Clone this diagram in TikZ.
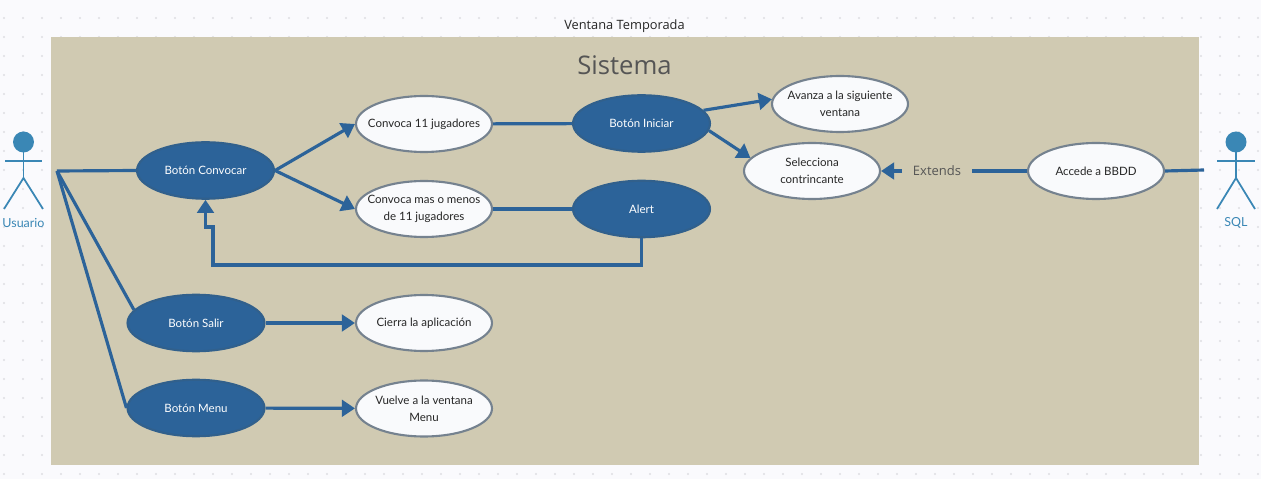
\documentclass[tikz,border=0pt]{standalone}
\usepackage{fontspec}
\setmainfont{Lato}
\newfontfamily\titlefont{Open Sans}
\usetikzlibrary{arrows.meta,shapes.geometric}
\definecolor{pagebg}{HTML}{FAFAFD}
\definecolor{griddot}{HTML}{DEDEE3}
\definecolor{panelbg}{HTML}{D0CAB2}
\definecolor{botonblue}{HTML}{2C6399}
\definecolor{botonedge}{HTML}{31608C}
\definecolor{ovaledge}{HTML}{75828F}
\definecolor{ovalfill}{HTML}{F9FAFC}
\definecolor{actorblue}{HTML}{3A87B5}
\definecolor{inkgrey}{HTML}{555555}
\tikzset{
  boton/.style={ellipse, draw=botonedge, fill=botonblue, line width=1.2pt, minimum width=2.74cm, minimum height=1.13cm, inner xsep=-0.4cm, inner ysep=0pt, text=white, align=center, font=\fontsize{6.55}{9.5}\selectfont},
  caso/.style={ellipse, draw=ovaledge, fill=ovalfill, line width=1.2pt, minimum width=2.72cm, minimum height=1.12cm, inner xsep=-0.4cm, inner ysep=0pt, text=black!85, align=center, font=\fontsize{6.55}{9.5}\selectfont},
  enlace/.style={draw=botonblue, line width=1.8pt},
  flecha/.style={enlace, -{Triangle[length=7.5pt,width=9.5pt]}},
  actorline/.style={draw=actorblue, line width=1pt},
  actorname/.style={text=actorblue, font=\fontsize{7.1}{9}\selectfont}
}
\begin{document}
\begin{tikzpicture}[x=0.02cm, y=-0.02cm, line cap=butt, line join=miter]
    \useasboundingbox (0,0) rectangle (1261,479);
    % Page background with dotted grid
    \fill[pagebg] (0,0) rectangle (1261,479);
    \foreach \gx in {0,...,66}
        \foreach \gy in {0,...,24}
            \fill[griddot] ({4+19*\gx},{18+19*\gy}) circle (1.2);

    % Panel
    \fill[panelbg] (51,37) rectangle (1199,465);
    \node[font=\titlefont\fontsize{7.3}{9}\selectfont, text=black!85] (titulo) at (624.5,26) {Ventana Temporada};
    \node[font=\titlefont\fontsize{14.6}{18}\selectfont, text=inkgrey] (sistema) at (624.5,65) {Sistema};

    % Left column of buttons
    \node[boton] (convocar) at (205.5,170.5) {Botón Convocar};
    \node[boton] (salir) at (196,323) {Botón Salir};
    \node[boton] (menu) at (196,408) {Botón Menu};

    % Second column
    \node[caso] (once) at (424,124) {Convoca 11 jugadores};
    \node[caso] (masmenos) at (424,209) {Convoca mas o menos\\de 11 jugadores};
    \node[caso] (cierra) at (424,323) {Cierra la aplicación};
    \node[caso] (vuelve) at (424,408.5) {Vuelve a la ventana\\Menu};

    % Third column
    \node[boton] (iniciar) at (641.5,123.5) {Botón Iniciar};
    \node[boton] (alert) at (641.5,209) {Alert};

    % Right side
    \node[caso] (avanza) at (840,104) {Avanza a la siguiente\\ventana};
    \node[caso] (selecciona) at (812,171) {Selecciona\\contrincante};
    \node[caso] (accede) at (1096,171) {Accede a BBDD};
    \node[minimum width=1.38cm, inner sep=0pt, text=inkgrey, font=\titlefont\fontsize{7.4}{9}\selectfont] (extends) at (937,171) {Extends};

    % Usuario actor
    \fill[actorblue] (23.5,142) circle (10.5);
    \draw[actorline] (23.5,152) -- (23.5,178);
    \draw[actorline] (5,161) -- (42,161);
    \draw[actorline] (4,209) -- (23.5,178) -- (43,209);
    \node[actorname] (usuario) at (23.5,223) {Usuario};

    % SQL actor
    \fill[actorblue] (1236,142) circle (10.5);
    \draw[actorline] (1236,152) -- (1236,178);
    \draw[actorline] (1217,161) -- (1255,161);
    \draw[actorline] (1217,209) -- (1236,178) -- (1255,209);
    \node[actorname] (sql) at (1236,223) {SQL};

    % Free ends of the actor lines
    \coordinate (usuariopunto) at (57,171);
    \coordinate (sqlpunto) at (1204,170);

    % Usuario lines
    \draw[enlace] (usuariopunto) -- (convocar.west);
    \draw[enlace] (usuariopunto) -- (salir.168);
    \draw[enlace] (usuariopunto) -- (menu.west);

    % Convocar arrows
    \draw[flecha] (convocar.east) -- (once.west);
    \draw[flecha] (convocar.east) -- (masmenos.west);
    \draw[enlace] (once) -- (iniciar);
    \draw[enlace] (masmenos) -- (alert);

    % Iniciar arrows
    \draw[flecha] (iniciar.12) -- (avanza.176);
    \draw[flecha] (iniciar.354) -- (selecciona.168);

    % Alert goes back to Convocar
    \draw[flecha] (alert.south) -- (641.5,265) -- (213,265) -- (213,227) -- (205.5,227) -- (convocar.south);

    \draw[flecha] (extends) -- (selecciona.east);
    \draw[enlace] (accede) -- (extends);
    \draw[enlace] (accede.east) -- (sqlpunto);

    % Other buttons
    \draw[flecha] (salir) -- (cierra);
    \draw[flecha] (menu) -- (vuelve);
\end{tikzpicture}
\end{document}
